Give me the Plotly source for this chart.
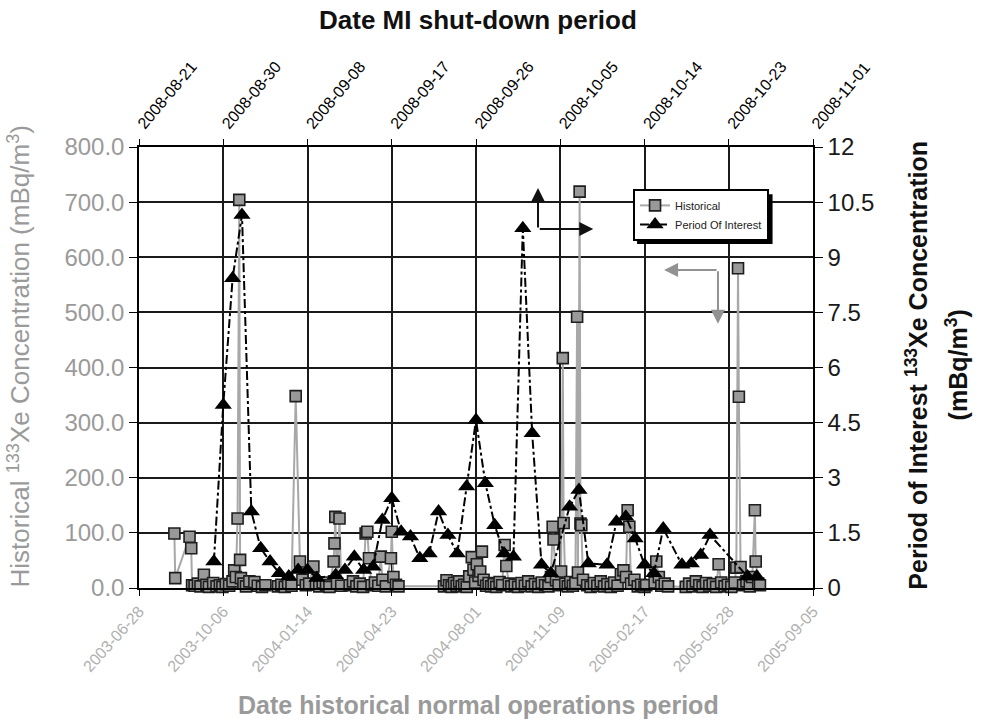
import plotly.graph_objects as go

# ---------------- data ----------------
hist_dates = [
    "2003-08-09", "2003-08-10", "2003-08-27", "2003-08-29", "2003-08-30",
    "2003-09-02", "2003-09-06", "2003-09-09", "2003-09-13", "2003-09-16", "2003-09-19", "2003-09-24",
    "2003-09-28", "2003-10-02", "2003-10-05", "2003-10-09", "2003-10-13", "2003-10-17", "2003-10-19",
    "2003-10-21", "2003-10-23", "2003-10-25", "2003-10-26", "2003-10-27", "2003-10-30", "2003-11-02",
    "2003-11-06", "2003-11-12", "2003-11-16", "2003-11-21", "2003-11-25",
    "2003-12-10", "2003-12-14", "2003-12-18", "2003-12-22", "2003-12-26", "2003-12-31", "2004-01-05",
    "2004-01-08", "2004-01-12", "2004-01-16", "2004-01-21", "2004-01-24", "2004-01-28", "2004-02-01",
    "2004-02-05", "2004-02-09", "2004-02-14", "2004-02-15", "2004-02-16", "2004-02-18", "2004-02-21",
    "2004-02-23",
    "2004-03-04", "2004-03-08", "2004-03-12", "2004-03-16", "2004-03-20", "2004-03-23", "2004-03-25",
    "2004-03-27", "2004-03-30", "2004-04-03", "2004-04-07", "2004-04-10", "2004-04-12", "2004-04-16",
    "2004-04-22", "2004-04-23", "2004-04-25", "2004-04-28", "2004-05-01",
    "2004-06-24", "2004-06-27", "2004-06-30", "2004-07-03", "2004-07-06", "2004-07-09", "2004-07-12",
    "2004-07-15", "2004-07-18", "2004-07-21", "2004-07-24", "2004-07-27", "2004-07-29", "2004-07-31",
    "2004-08-02", "2004-08-04", "2004-08-06", "2004-08-08", "2004-08-10", "2004-08-13", "2004-08-16",
    "2004-08-19", "2004-08-22", "2004-08-25", "2004-08-29", "2004-09-01", "2004-09-04", "2004-09-06",
    "2004-09-09", "2004-09-12", "2004-09-16", "2004-09-20", "2004-09-24", "2004-09-28", "2004-10-02",
    "2004-10-06", "2004-10-10", "2004-10-14", "2004-10-18", "2004-10-22", "2004-10-26", "2004-10-29",
    "2004-10-31", "2004-11-01", "2004-11-04", "2004-11-07", "2004-11-10", "2004-11-12", "2004-11-13",
    "2004-11-15", "2004-11-18", "2004-11-21", "2004-11-24", "2004-11-27", "2004-11-29", "2004-11-30",
    "2004-12-02", "2004-12-03", "2004-12-04", "2004-12-06",
    "2004-12-11", "2004-12-15", "2004-12-19", "2004-12-23", "2004-12-27", "2004-12-31", "2005-01-04",
    "2005-01-08", "2005-01-12", "2005-01-16", "2005-01-20", "2005-01-23", "2005-01-26", "2005-01-28",
    "2005-01-30", "2005-02-01", "2005-02-05", "2005-02-09", "2005-02-13", "2005-02-17", "2005-02-19",
    "2005-03-01", "2005-03-03", "2005-03-06", "2005-03-09", "2005-03-13", "2005-03-17",
    "2005-04-07", "2005-04-11", "2005-04-15", "2005-04-19", "2005-04-23", "2005-04-27", "2005-05-01",
    "2005-05-05", "2005-05-09", "2005-05-13", "2005-05-16", "2005-05-19", "2005-05-23", "2005-05-27",
    "2005-05-31", "2005-06-04", "2005-06-06", "2005-06-08", "2005-06-09", "2005-06-11", "2005-06-14",
    "2005-06-18", "2005-06-22", "2005-06-25", "2005-06-28", "2005-06-29", "2005-07-02", "2005-07-04",
]
hist_values = [
    99, 18, 93, 72, 5,
    4, 8, 3, 24, 6, 2, 9,
    3, 5, 2, 7, 4, 12, 32,
    20, 126, 704, 51, 18, 8, 3,
    12, 11, 4, 2, 5,
    3, 6, 2, 9, 4, 348, 48,
    15, 5, 8, 39, 6, 3, 10,
    5, 2, 48, 81, 129, 8, 126,
    4,
    5, 12, 3, 8, 2, 99, 102,
    54, 5, 10, 4, 57, 15, 3,
    54, 102, 20, 6, 3,
    3, 14, 5, 2, 9, 4, 12,
    3, 6, 2, 21, 56, 33, 10,
    43, 22, 30, 66, 15, 4, 9,
    3, 7, 2, 11, 5, 78, 40,
    8, 3, 6, 2, 9, 4, 12,
    3, 7, 2, 10, 5, 3, 20,
    111, 88, 14, 5, 30, 417, 118,
    8, 3, 11, 4, 9, 492, 28,
    719, 117, 114, 15,
    5, 2, 9, 4, 12, 3, 7,
    2, 10, 4, 25, 32, 20, 141,
    111, 8, 15, 3, 6, 2, 5,
    10, 48, 20, 4, 8, 3,
    2, 8, 3, 12, 5, 2, 9,
    4, 7, 2, 43, 10, 3, 6,
    2, 10, 37, 580, 347, 38, 5,
    12, 3, 20, 141, 48, 8, 5,
]

poi_dates = [
    "2008-08-29", "2008-08-30", "2008-08-31",
    "2008-09-01", "2008-09-02", "2008-09-03", "2008-09-04", "2008-09-05", "2008-09-06",
    "2008-09-07", "2008-09-08", "2008-09-09",
    "2008-09-11", "2008-09-12", "2008-09-13", "2008-09-14", "2008-09-15", "2008-09-16",
    "2008-09-17", "2008-09-18", "2008-09-19", "2008-09-20", "2008-09-21", "2008-09-22",
    "2008-09-23", "2008-09-24", "2008-09-25", "2008-09-26", "2008-09-27", "2008-09-28",
    "2008-09-29", "2008-09-30",
    "2008-10-01", "2008-10-02", "2008-10-03", "2008-10-04",
    "2008-10-06", "2008-10-07", "2008-10-08",
    "2008-10-10", "2008-10-11", "2008-10-12", "2008-10-13", "2008-10-14", "2008-10-15", "2008-10-16",
    "2008-10-18", "2008-10-19", "2008-10-20", "2008-10-21",
    "2008-10-25", "2008-10-26",
]
poi_values = [
    0.72, 4.98, 8.43,
    10.15, 2.08, 1.08, 0.72, 0.40, 0.31,
    0.49, 0.49, 0.27,
    0.35, 0.49, 0.85, 0.49, 0.58, 1.85,
    2.44, 1.53, 1.40, 0.81, 0.94, 2.08,
    1.44, 0.94, 2.76, 4.57, 2.85, 1.71,
    0.94, 0.85,
    9.79, 4.21, 0.63, 0.40,
    2.21, 2.67, 0.67,
    0.63, 1.80, 1.94, 1.35, 0.63, 0.40, 1.62,
    0.63, 0.67, 0.90, 1.44,
    0.31, 0.31,
]

bottom_ticks = ["2003-06-28", "2003-10-06", "2004-01-14", "2004-04-23", "2004-08-01",
                "2004-11-09", "2005-02-17", "2005-05-28", "2005-09-05"]
top_ticks = ["2008-08-21", "2008-08-30", "2008-09-08", "2008-09-17", "2008-09-26",
             "2008-10-05", "2008-10-14", "2008-10-23", "2008-11-01"]
left_ticks = [0, 100, 200, 300, 400, 500, 600, 700, 800]
right_ticks = [0, 1.5, 3, 4.5, 6, 7.5, 9, 10.5, 12]

# ---------------- figure ----------------
FONT = "Liberation Sans, Arial, sans-serif"
GRAY_TXT = "#9a9a9a"
GRID = "#1a1a1a"

fig = go.Figure()

fig.add_trace(go.Scatter(
    x=hist_dates, y=hist_values, name="Historical", mode="lines+markers",
    xaxis="x", yaxis="y",
    line=dict(color="#a8a8a8", width=2),
    marker=dict(symbol="square", size=11, color="#999999",
                line=dict(color="#1e1e1e", width=1.6)),
    cliponaxis=False,
))

fig.add_trace(go.Scatter(
    x=poi_dates, y=poi_values, name="Period Of Interest", mode="lines+markers",
    xaxis="x2", yaxis="y2",
    line=dict(color="#000000", width=2, dash="dashdot"),
    marker=dict(symbol="triangle-up", size=15, color="#000000"),
    cliponaxis=False,
))

fig.update_layout(
    width=988, height=721,
    margin=dict(l=139, r=175, t=147, b=133),
    paper_bgcolor="white", plot_bgcolor="white",
    font=dict(family=FONT, color="#000000"),
    showlegend=True,
    legend=dict(
        x=0.733, y=0.905, xanchor="left", yanchor="top",
        bgcolor="white", bordercolor="#000000", borderwidth=2,
        font=dict(size=11, color="#222222", family=FONT),
        tracegroupgap=0, itemwidth=30,
    ),
    xaxis=dict(
        type="date", range=[bottom_ticks[0], bottom_ticks[-1]],
        tickmode="array", tickvals=bottom_ticks, ticktext=bottom_ticks,
        tickangle=-48, tickfont=dict(size=16, color="#b0b0b0"),
        showgrid=False, zeroline=False,
        showline=True, linecolor="#000000", linewidth=1.5,
        ticks="outside", ticklen=6, tickcolor="#000000",
    ),
    xaxis2=dict(
        type="date", range=[top_ticks[0], top_ticks[-1]],
        overlaying="x", side="top", anchor="y",
        tickmode="array", tickvals=top_ticks, ticktext=top_ticks,
        tickangle=-50, tickfont=dict(size=16, color="#000000"),
        showgrid=True, gridcolor=GRID, gridwidth=1.5, zeroline=False,
        showline=True, linecolor="#000000", linewidth=1.5,
        ticks="outside", ticklen=6, tickcolor="#000000",
    ),
    yaxis=dict(
        range=[0, 800], tickmode="array", tickvals=left_ticks,
        ticktext=[f"{v:.1f}" for v in left_ticks],
        tickfont=dict(size=24, color=GRAY_TXT),
        showgrid=True, gridcolor=GRID, gridwidth=1.5, zeroline=False,
        showline=True, linecolor="#000000", linewidth=1.5,
        ticks="outside", ticklen=8, tickcolor="#000000",
    ),
    yaxis2=dict(
        range=[0, 12], overlaying="y", side="right", anchor="x",
        tickmode="array", tickvals=right_ticks,
        ticktext=[f"{v:g}" for v in right_ticks],
        tickfont=dict(size=24, color="#1a1a1a"),
        showgrid=False, zeroline=False,
        showline=True, linecolor="#000000", linewidth=1.5,
        ticks="outside", ticklen=8, tickcolor="#000000",
    ),
)

txt_common = dict(xref="paper", yref="paper", showarrow=False, xanchor="center", yanchor="middle")
annotations = [
    dict(text="<b>Date MI shut-down period</b>", x=0.503, y=1.288,
         font=dict(size=26, color="#111111"), **txt_common),
    dict(text="<b>Date historical normal operations period</b>", x=0.503, y=-0.265,
         font=dict(size=25, color=GRAY_TXT), **txt_common),
    dict(text="Historical <sup>133</sup>Xe Concentration (mBq/m<sup>3</sup>)", x=-0.178, y=0.525,
         textangle=-90, font=dict(size=26, color=GRAY_TXT), **txt_common),
    dict(text="<b>Period of Interest <sup>133</sup>Xe Concentration</b>", x=1.154, y=0.506,
         textangle=-90, font=dict(size=25, color="#111111"), **txt_common),
    dict(text="<b>(mBq/m<sup>3</sup>)</b>", x=1.213, y=0.506,
         textangle=-90, font=dict(size=25, color="#111111"), **txt_common),
]

# L-shaped arrows
arrow_common = dict(xref="paper", yref="paper", axref="pixel", ayref="pixel", text="",
                    showarrow=True, arrowhead=2, arrowsize=1.4, arrowwidth=2)
annotations += [
    dict(x=0.592, y=0.907, ax=0, ay=41, arrowcolor="#111111", **arrow_common),
    dict(x=0.674, y=0.814, ax=-55, ay=0, arrowcolor="#111111", **arrow_common),
    dict(x=0.779, y=0.721, ax=54, ay=0, arrowcolor="#929292", **arrow_common),
    dict(x=0.859, y=0.599, ax=0, ay=-54, arrowcolor="#929292", **arrow_common),
]
fig.update_layout(annotations=annotations)

# legend drop shadow
fig.add_shape(type="rect", xref="paper", yref="paper", layer="above",
              x0=0.739, x1=0.940, y0=0.780, y1=0.893,
              fillcolor="#000000", line=dict(width=0))

fig.write_html("out.html")
